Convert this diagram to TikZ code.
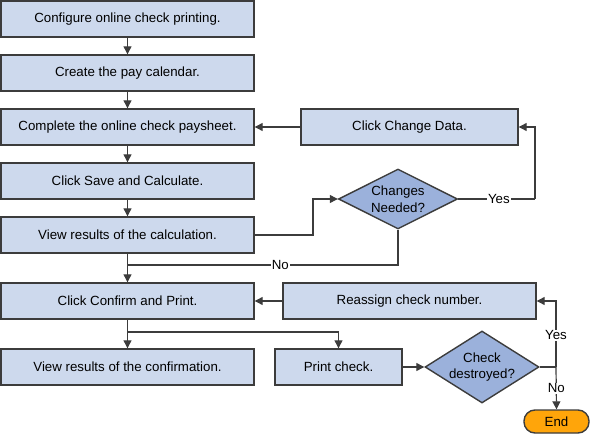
\documentclass[tikz,border=0pt]{standalone}
\usepackage{fontspec}
\setmainfont{Liberation Sans}
\usetikzlibrary{arrows.meta,shapes.geometric}
\definecolor{boxfill}{HTML}{CDD9ED}
\definecolor{dfill}{HTML}{9BB1DB}
\definecolor{endfill}{HTML}{FFA50A}
\definecolor{linegray}{HTML}{3C3C3C}
\begin{document}
\begin{tikzpicture}[x=1pt,y=-1pt,
  font=\fontsize{13.3}{16.5}\selectfont,
  stepbox/.style={draw=linegray, fill=boxfill, line width=1.4pt, minimum height=36pt, inner sep=0pt, minimum width=#1},
  decide/.style={diamond, draw=linegray, fill=dfill, line width=1.4pt, inner sep=0pt, align=center},
  conn/.style={draw=linegray, line width=1.2pt},
  arr/.style={conn, -{Triangle[length=8pt,width=8pt]}},
  lbl/.style={fill=white, inner sep=1pt}]
\useasboundingbox (0,0) rectangle (591,435);
\node[stepbox=253pt] (b1) at (127.5,19) {Configure online check printing.};
\node[stepbox=253pt] (b2) at (127.5,73) {Create the pay calendar.};
\node[stepbox=253pt] (b3) at (127.5,127) {Complete the online check paysheet.};
\node[stepbox=253pt] (b4) at (127.5,181) {Click Save and Calculate.};
\node[stepbox=253pt] (b5) at (127.5,235) {View results of the calculation.};
\node[stepbox=253pt] (b6) at (127.5,301) {Click Confirm and Print.};
\node[stepbox=253pt] (b7) at (127.5,367) {View results of the confirmation.};
\node[stepbox=217pt] (cd) at (409.5,127) {Click Change Data.};
\node[stepbox=253pt] (rs) at (409.5,301) {Reassign check number.};
\node[stepbox=127pt] (pc) at (338.5,367) {Print check.};
\node[decide, shape aspect=2, minimum width=119pt, minimum height=60pt] (d1) at (398,199) {Changes\\Needed?};
\node[decide, shape aspect=1.6, minimum width=114pt, minimum height=72pt] (d2) at (482,367) {Check\\destroyed?};
\node[draw=linegray, fill=endfill, line width=1.4pt, rounded corners=11pt, minimum width=65pt, minimum height=23pt, inner sep=0pt] (end) at (556.5,421.5) {End};
\coordinate (k1) at (313,235);
\coordinate (k2) at (535,199);
\coordinate (j1) at (127.5,265);
\coordinate (j2) at (127.5,332);
\coordinate (k3) at (556,367);
\draw[arr] (b1) -- (b2);
\draw[arr] (b2) -- (b3);
\draw[arr] (b3) -- (b4);
\draw[arr] (b4) -- (b5);
\draw[arr] (b5) -- (b6);
\draw[arr] (b6) -- (b7);
\draw[arr] (b5.east) -- (k1) |- (d1.west);
\draw[conn] (d1.east) -- node[lbl, pos=0.53] {Yes} (k2);
\draw[arr] (k2) |- (cd.east);
\draw[arr] (cd.west) -- (b3.east);
\draw[conn] (d1.south) -- (d1.south |- j1) -- node[lbl, pos=0.435] {No} (j1);
\draw[arr] (rs.west) -- (b6.east);
\draw[arr] (j2) -| (pc.north);
\draw[arr] (pc.east) -- (d2.west);
\draw[conn] (d2.east) -- (k3);
\draw[arr] (k3) -- node[lbl, pos=0.48] {Yes} (k3 |- rs.east) -- (rs.east);
\draw[arr] (k3) -- node[lbl, pos=0.5] {No} (end.north);
\end{tikzpicture}
\end{document}
